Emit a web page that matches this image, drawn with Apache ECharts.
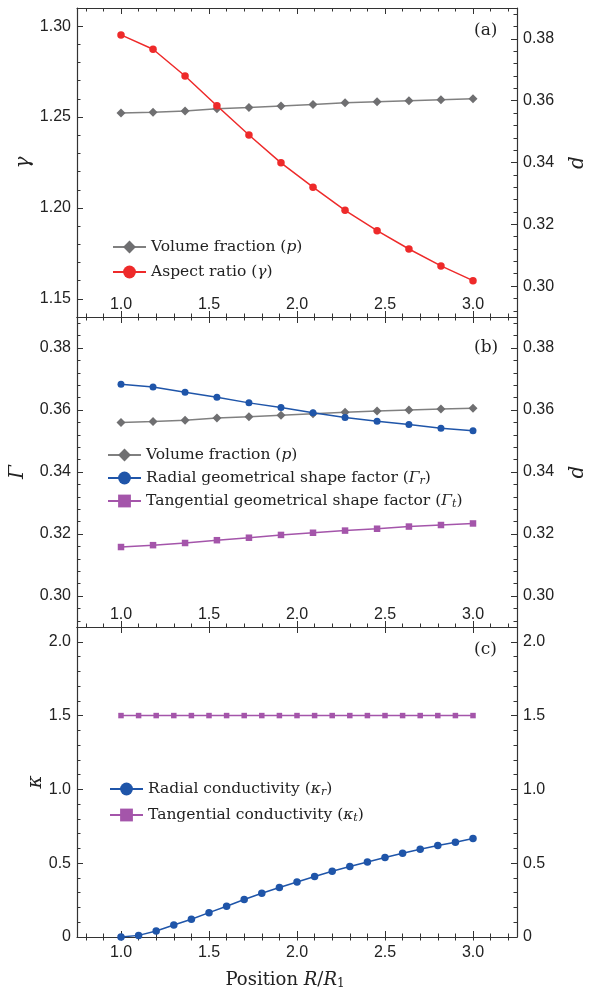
<!DOCTYPE html>
<html>
<head>
<meta charset="utf-8">
<script src="https://cdn.jsdelivr.net/npm/echarts@6/dist/echarts.min.js"></script>
<style>html,body{margin:0;padding:0;background:#fff}#c{width:601px;height:994px}</style>
</head>
<body>
<div id="c"></div>
<script>
// ---------- data ----------
const xPanelAB = [1.000, 1.182, 1.364, 1.545, 1.727, 1.909, 2.091, 2.273, 2.455, 2.636, 2.818, 3.000];
const volumeFraction = [0.3560, 0.3563, 0.3567, 0.3574, 0.3578, 0.3583, 0.3588, 0.3593, 0.3597, 0.3600, 0.3603, 0.3606];
const aspectRatio = [1.2952, 1.2873, 1.2726, 1.2562, 1.2401, 1.2248, 1.2114, 1.1987, 1.1875, 1.1774, 1.1681, 1.1600];
const radialShape = [0.3683, 0.3674, 0.3657, 0.3641, 0.3623, 0.3608, 0.3591, 0.3576, 0.3564, 0.3553, 0.3541, 0.3533];
const tangentialShape = [0.3158, 0.3164, 0.3171, 0.3180, 0.3188, 0.3197, 0.3204, 0.3211, 0.3217, 0.3224, 0.3229, 0.3234];

const xPanelC = [1.0, 1.1, 1.2, 1.3, 1.4, 1.5, 1.6, 1.7, 1.8, 1.9, 2.0, 2.1, 2.2, 2.3, 2.4, 2.5, 2.6, 2.7, 2.8, 2.9, 3.0];
const radialCond = [0, 0.011, 0.041, 0.081, 0.120, 0.165, 0.208, 0.254, 0.296, 0.335, 0.373, 0.410, 0.445, 0.477, 0.508, 0.538, 0.567, 0.595, 0.620, 0.642, 0.667];
const tangentialCond = [1.5, 1.5, 1.5, 1.5, 1.5, 1.5, 1.5, 1.5, 1.5, 1.5, 1.5, 1.5, 1.5, 1.5, 1.5, 1.5, 1.5, 1.5, 1.5, 1.5, 1.5];

// tick labels
const xTicks = [1.0, 1.5, 2.0, 2.5, 3.0];
const gammaTicks = [1.15, 1.20, 1.25, 1.30];
const dTicks = [0.30, 0.32, 0.34, 0.36, 0.38];
const bigGammaTicks = [0.30, 0.32, 0.34, 0.36, 0.38];
const kappaTicks = [0, 0.5, 1.0, 1.5, 2.0];

// ---------- helpers ----------
function steps(a, b, s) { const out = []; const n = Math.round((b - a) / s); for (let i = 0; i <= n; i++) out.push(+(a + i * s).toFixed(6)); return out; }
const X_MIN = 0.75, X_MAX = 3.25;
const xMinor = steps(0.8, 3.2, 0.1);
const AX = '#333';
const LBL = { color: '#222', fontFamily: 'Liberation Sans', fontSize: 16 };
const MAJ = 6, MIN = 3.5;

function xAxes(g, inside, name) {
  const base = { type: 'value', gridIndex: g, min: X_MIN, max: X_MAX, splitLine: { show: false },
    axisLine: { onZero: false, lineStyle: { color: AX, width: 1.2 } } };
  const tl = { color: AX, width: 1 };
  const main = Object.assign({}, base, { position: 'bottom',
    axisTick: { inside: true, length: MAJ, customValues: xTicks, lineStyle: tl },
    axisLabel: Object.assign({ inside: inside, margin: inside ? 4 : 8, customValues: xTicks, formatter: v => v.toFixed(1) }, LBL) });
  if (name) {
    main.name = name; main.nameLocation = 'middle'; main.nameGap = 33; main.nameMoveOverlap = false;
    main.nameTextStyle = { fontFamily: 'DejaVu Serif', fontSize: 18, color: '#222', padding: [0, 24, 0, 0],
      rich: { i: { fontFamily: 'DejaVu Serif', fontStyle: 'italic', fontSize: 18, color: '#222' },
              sub: { fontFamily: 'DejaVu Serif', fontSize: 12, color: '#222', verticalAlign: 'bottom', padding: [8, 0, 0, 0] } } };
  }
  return [
    main,
    Object.assign({}, base, { position: 'bottom', axisLine: { show: false }, axisTick: { inside: true, length: MIN, customValues: xMinor, lineStyle: tl }, axisLabel: { show: false } }),
    Object.assign({}, base, { position: 'top', axisTick: { inside: true, length: MAJ, customValues: xTicks, lineStyle: tl }, axisLabel: { show: false } }),
    Object.assign({}, base, { position: 'top', axisLine: { show: false }, axisTick: { inside: true, length: MIN, customValues: xMinor, lineStyle: tl }, axisLabel: { show: false } })
  ];
}

function yAxes(g, o) {
  const tl = { color: AX, width: 1 };
  function pair(pos, min, max, major, minor, fmt, name, gap) {
    const base = { type: 'value', gridIndex: g, min: min, max: max, position: pos, splitLine: { show: false },
      axisLine: { onZero: false, lineStyle: { color: AX, width: 1.2 } } };
    return [
      Object.assign({}, base, {
        name: name, nameLocation: 'middle', nameGap: gap, nameMoveOverlap: false,
        nameTextStyle: { fontFamily: 'DejaVu Serif', fontStyle: 'italic', fontSize: 20, color: '#222' },
        axisTick: { inside: true, length: MAJ, customValues: major, lineStyle: tl },
        axisLabel: Object.assign({ margin: 6, customValues: major, formatter: fmt }, LBL) }),
      Object.assign({}, base, { axisLine: { show: false }, axisTick: { inside: true, length: MIN, customValues: minor, lineStyle: tl }, axisLabel: { show: false } })
    ];
  }
  return pair('left', o.min, o.max, o.lMaj, o.lMin, o.lFmt, o.lName, o.lGap)
    .concat(pair('right', o.rMin != null ? o.rMin : o.min, o.rMax != null ? o.rMax : o.max, o.rMaj, o.rMin2, o.rFmt, o.rName, o.rGap));
}

const f2 = v => v.toFixed(2);
const fK = v => v === 0 ? '0' : v.toFixed(1);

const grids = [
  { left: 77, right: 84, top: 8, height: 309 },
  { left: 77, right: 84, top: 317, height: 310 },
  { left: 77, right: 84, top: 627, height: 310 }
].map(g => Object.assign(g, { containLabel: false, outerBoundsMode: 'none' }));

const xAxis = [].concat(xAxes(0, true), xAxes(1, true), xAxes(2, false, 'Position {i|R}/{i|R}{sub|1}'));
const yAxis = [].concat(
  yAxes(0, { min: 1.14, max: 1.31, lMaj: gammaTicks, lMin: steps(1.14, 1.31, 0.01), lFmt: f2, lName: 'γ', lGap: 43,
             rMin: 0.29, rMax: 0.39, rMaj: dTicks, rMin2: steps(0.292, 0.388, 0.004), rFmt: f2, rName: 'd', rGap: 51 }),
  yAxes(1, { min: 0.29, max: 0.39, lMaj: bigGammaTicks, lMin: steps(0.292, 0.388, 0.004), lFmt: f2, lName: 'Γ', lGap: 49,
             rMaj: dTicks, rMin2: steps(0.292, 0.388, 0.004), rFmt: f2, rName: 'd', rGap: 51 }),
  yAxes(2, { min: 0, max: 2.1, lMaj: kappaTicks, lMin: steps(0.1, 2.1, 0.1), lFmt: fK, lName: 'κ', lGap: 31,
             rMaj: kappaTicks, rMin2: steps(0.1, 2.1, 0.1), rFmt: fK, rName: '', rGap: 40 })
);

const GRAY = '#6f6f71', GRAYL = '#808080', RED = '#ee2a2a', BLUE = '#1f55a9', PURP = '#a455aa';
function pts(xs, ys) { return xs.map((x, i) => [x, ys[i]]); }
function line(name, g, yIdx, xs, ys, color, lineColor, symbol, size, z) {
  return { type: 'line', name: name, xAxisIndex: g * 4, yAxisIndex: g * 4 + yIdx, data: pts(xs, ys),
    symbol: symbol, symbolSize: size, showSymbol: true, z: z || 2,
    lineStyle: { color: lineColor || color, width: 1.5 }, itemStyle: { color: color, borderWidth: 0 } };
}

const N_P = 'Volume fraction (p)', N_G = 'Aspect ratio (γ)', N_GR = 'Radial geometrical shape factor (Γr)',
  N_GT = 'Tangential geometrical shape factor (Γt)', N_KR = 'Radial conductivity (κr)', N_KT = 'Tangential conductivity (κt)';
const richNames = {};
richNames[N_P] = 'Volume fraction ({i|p})';
richNames[N_G] = 'Aspect ratio ({i|γ})';
richNames[N_GR] = 'Radial geometrical shape factor ({i|Γ}{sub|r})';
richNames[N_GT] = 'Tangential geometrical shape factor ({i|Γ}{sub|t})';
richNames[N_KR] = 'Radial conductivity ({i|κ}{sub|r})';
richNames[N_KT] = 'Tangential conductivity ({i|κ}{sub|t})';

const series = [
  line(N_P, 0, 2, xPanelAB, volumeFraction, GRAY, GRAYL, 'diamond', 9, 2),
  line(N_G, 0, 0, xPanelAB, aspectRatio, RED, RED, 'circle', 7.5, 3),
  line(N_P, 1, 2, xPanelAB, volumeFraction, GRAY, GRAYL, 'diamond', 9, 2),
  line(N_GR, 1, 0, xPanelAB, radialShape, BLUE, BLUE, 'circle', 7, 3),
  line(N_GT, 1, 0, xPanelAB, tangentialShape, PURP, PURP, 'rect', 6.5, 3),
  line(N_KT, 2, 0, xPanelC, tangentialCond, PURP, PURP, 'rect', 5.5, 2),
  line(N_KR, 2, 0, xPanelC, radialCond, BLUE, BLUE, 'circle', 7.5, 3)
];

const legTS = { fontFamily: 'DejaVu Serif', fontSize: 15.5, color: '#222', lineHeight: 18,
  rich: { i: { fontFamily: 'DejaVu Serif', fontStyle: 'italic', fontSize: 15.5, color: '#222', lineHeight: 18 },
          sub: { fontFamily: 'DejaVu Serif', fontStyle: 'italic', fontSize: 11, color: '#222', lineHeight: 18, verticalAlign: 'bottom', padding: [6, 0, 0, 0] } } };
function legend(data, left, top, gap) {
  return { data: data, orient: 'vertical', left: left, top: top, itemGap: gap, itemWidth: 33, itemHeight: 16,
    padding: 0, selectedMode: false, textStyle: legTS, formatter: n => richNames[n] || n };
}

const titleTS = { fontFamily: 'DejaVu Serif', fontWeight: 'normal', fontSize: 17, color: '#222' };
const option = {
  animation: false,
  backgroundColor: '#fff',
  grid: grids,
  xAxis: xAxis,
  yAxis: yAxis,
  series: series,
  legend: [
    legend([N_P, N_G], 112, 238, 7),
    legend([N_P, N_GR, N_GT], 107, 446, 5),
    legend([N_KR, N_KT], 109, 780, 8)
  ],
  title: [
    { text: '(a)', left: 474, top: 22, padding: 0, textStyle: titleTS },
    { text: '(b)', left: 474, top: 339, padding: 0, textStyle: titleTS },
    { text: '(c)', left: 474, top: 641, padding: 0, textStyle: titleTS }
  ]
};
const chart = echarts.init(document.getElementById('c'), null, { renderer: 'canvas' });
chart.setOption(option);
</script>
</body>
</html>
